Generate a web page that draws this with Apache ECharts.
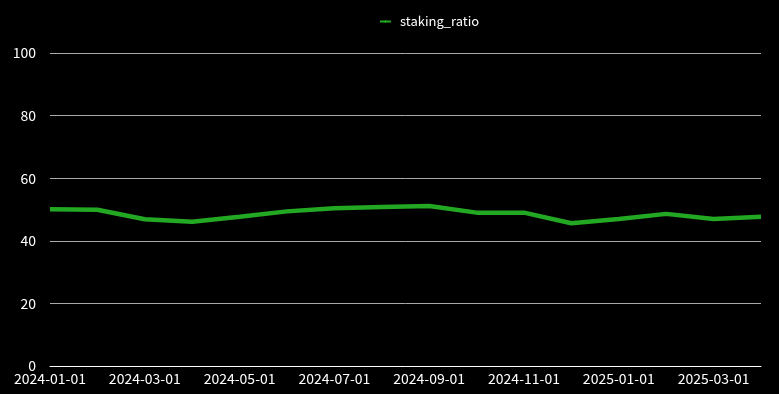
<!DOCTYPE html>
<html>
<head>
<meta charset="utf-8">
<script src="https://cdn.jsdelivr.net/npm/echarts@6/dist/echarts.min.js"></script>
<style>html,body{margin:0;padding:0;background:#000;}#c{width:779px;height:394px;}</style>
</head>
<body>
<div id="c"></div>
<script>
const categories = ["2024-01-01","2024-02-01","2024-03-01","2024-04-01","2024-05-01","2024-06-01","2024-07-01","2024-08-01","2024-09-01","2024-10-01","2024-11-01","2024-12-01","2025-01-01","2025-02-01","2025-03-01","2025-04-01"];
const stakingRatio = [50.1, 49.9, 46.9, 46.1, 47.7, 49.4, 50.4, 50.8, 51.1, 49.0, 49.0, 45.6, 47.0, 48.6, 47.0, 47.7];
const seriesName = "staking_ratio";

const chart = echarts.init(document.getElementById('c'), null, {renderer: 'canvas'});
const font = '"Noto Sans CJK JP", "Noto Sans", sans-serif';
chart.setOption({
  backgroundColor: '#000',
  animation: false,
  textStyle: {fontFamily: font},
  legend: {
    left: 374, top: 10,
    itemWidth: 11, itemHeight: 3,
    textStyle: {color: '#fff', fontSize: 13, fontFamily: font, padding: [0, 0, 0, 4]},
    data: [seriesName]
  },
  grid: {left: 50, right: 18, top: 53, bottom: 28, containLabel: false},
  xAxis: {
    type: 'category',
    data: categories,
    boundaryGap: false,
    axisLine: {show: true, lineStyle: {color: '#fff', width: 1}},
    axisTick: {show: false},
    axisLabel: {color: '#fff', fontSize: 14, interval: 1, margin: 6, fontFamily: font},
    splitLine: {show: false}
  },
  yAxis: {
    type: 'value',
    min: 0, max: 100, interval: 20,
    axisLine: {show: false},
    axisTick: {show: false},
    axisLabel: {color: '#fff', fontSize: 14, margin: 14, fontFamily: font},
    splitLine: {show: true, lineStyle: {color: '#aaa', width: 1}}
  },
  series: [{
    name: seriesName,
    type: 'line',
    data: stakingRatio,
    symbol: 'none',
    lineStyle: {color: '#23a823', width: 4.5},
    itemStyle: {color: '#23a823'}
  }]
});
</script>
</body>
</html>
